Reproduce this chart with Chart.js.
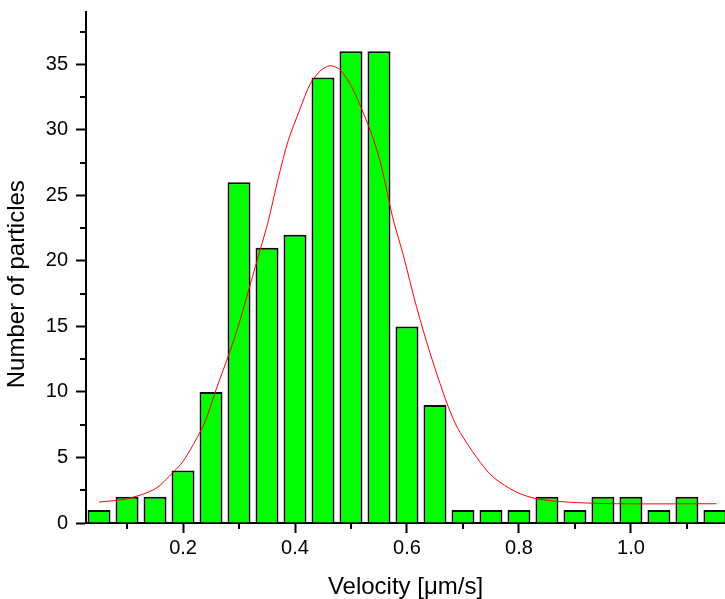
<!DOCTYPE html>
<html>
<head>
<meta charset="utf-8">
<title>Velocity distribution</title>
<script src="https://cdn.jsdelivr.net/npm/chart.js@4/dist/chart.umd.min.js"></script>
<style>
  html, body { margin: 0; padding: 0; background: #fff; }
  #wrap { width: 725px; height: 599px; }
</style>
</head>
<body>
<div id="wrap"><canvas id="chart" width="725" height="599"></canvas></div>
<script>
// Histogram bins (bin centre, µm/s) and particle counts
const binCenters = [0.05, 0.10, 0.15, 0.20, 0.25, 0.30, 0.35, 0.40, 0.45, 0.50, 0.55, 0.60,
                    0.65, 0.70, 0.75, 0.80, 0.85, 0.90, 0.95, 1.00, 1.05, 1.10, 1.15];
const counts = [1, 2, 2, 4, 10, 26, 21, 22, 34, 36, 36, 15,
                9, 1, 1, 1, 2, 1, 2, 2, 1, 2, 1];

// Gaussian fit curve, sampled points
const fitX = [0.05, 0.10, 0.15, 0.183, 0.20, 0.225, 0.241, 0.26, 0.283, 0.302, 0.32, 0.3375,
              0.352, 0.37, 0.388, 0.409, 0.427, 0.445, 0.4625, 0.48, 0.501, 0.522, 0.54, 0.555,
              0.574, 0.593, 0.617, 0.641, 0.665, 0.683, 0.695, 0.7245, 0.754, 0.796, 0.832,
              0.885, 0.974, 1.153];
const fitY = [1.6, 1.85, 2.6, 3.9, 4.7, 6.5, 7.9, 10.3, 13.0, 15.5, 18.2, 20.8,
              23.0, 26.3, 29.2, 31.6, 33.5, 34.5, 34.9, 34.6, 33.3, 31.3, 29.3, 27.1,
              23.4, 20.5, 16.5, 13.0, 9.9, 7.9, 6.9, 5.0, 3.5, 2.35, 1.85,
              1.6, 1.47, 1.47];

// Axis ticks
const xMajorTicks = [0.2, 0.4, 0.6, 0.8, 1.0];
const xMinorTicks = [0.1, 0.3, 0.5, 0.7, 0.9, 1.1];
const yMajorTicks = [0, 5, 10, 15, 20, 25, 30, 35];
const yMinorTicks = [2.5, 7.5, 12.5, 17.5, 22.5, 27.5, 32.5, 37.5];

const FONT = "'Liberation Sans', Arial, Helvetica, sans-serif";

// Short minor tick marks outside the plot frame
const minorTicks = {
  id: 'minorTicks',
  afterDraw(chart) {
    const ctx = chart.ctx;
    const xs = chart.scales.x, ys = chart.scales.y;
    const area = chart.chartArea;
    ctx.save();
    ctx.strokeStyle = '#000';
    ctx.lineWidth = 2;
    ctx.beginPath();
    xMinorTicks.forEach(v => {
      const px = Math.round(xs.getPixelForValue(v));
      ctx.moveTo(px, area.bottom);
      ctx.lineTo(px, area.bottom + 6);
    });
    yMinorTicks.forEach(v => {
      const py = Math.round(ys.getPixelForValue(v));
      ctx.moveTo(area.left, py);
      ctx.lineTo(area.left - 6, py);
    });
    ctx.stroke();
    ctx.restore();
  }
};

new Chart(document.getElementById('chart'), {
  type: 'bar',
  data: {
    datasets: [
      {
        type: 'line',
        data: fitX.map((x, i) => ({ x: x, y: fitY[i] })),
        borderColor: '#ff0000',
        borderWidth: 1,
        pointRadius: 0,
        fill: false,
        tension: 0.3,
        order: 0
      },
      {
        type: 'bar',
        data: binCenters.map((x, i) => ({ x: x, y: counts[i] })),
        backgroundColor: '#00ff00',
        borderColor: '#0a0a0a',
        borderWidth: 2,
        barPercentage: 0.82,
        categoryPercentage: 1.0,
        order: 1
      }
    ]
  },
  options: {
    responsive: false,
    animation: false,
    devicePixelRatio: 1,
    layout: { padding: { top: 12, right: 0, bottom: 0, left: 0 } },
    plugins: { legend: { display: false }, tooltip: { enabled: false } },
    scales: {
      x: {
        type: 'linear',
        min: 0.0267,
        max: 1.168,
        offset: false,
        afterFit(s) { s.height = 76; s.paddingLeft = 0; s.paddingRight = 0; },
        afterBuildTicks(s) { s.ticks = xMajorTicks.map(v => ({ value: v })); },
        grid: { offset: false, drawOnChartArea: false, drawTicks: true, tickLength: 10,
                tickColor: '#000', tickWidth: 2 },
        border: { display: true, color: '#000', width: 2 },
        ticks: {
          color: '#000', padding: 3, maxRotation: 0, autoSkip: false,
          font: { family: FONT, size: 20 },
          callback: v => Number(v).toFixed(1)
        },
        title: {
          display: true, text: 'Velocity [μm/s]', color: '#000', padding: 0,
          font: { family: FONT, size: 24, lineHeight: 1 }
        }
      },
      y: {
        min: 0,
        max: 39,
        afterFit(s) { s.width = 86; s.paddingTop = 0; s.paddingBottom = 0; },
        afterBuildTicks(s) { s.ticks = yMajorTicks.map(v => ({ value: v })); },
        grid: { drawOnChartArea: false, drawTicks: true, tickLength: 10,
                tickColor: '#000', tickWidth: 2 },
        border: { display: true, color: '#000', width: 2 },
        ticks: {
          color: '#000', padding: 8,
          font: { family: FONT, size: 20 },
          callback: v => String(v)
        },
        title: {
          display: true, text: 'Number of particles     ', color: '#000', padding: { top: 5, bottom: 0 },
          font: { family: FONT, size: 24, lineHeight: 1 }
        }
      }
    }
  },
  plugins: [minorTicks]
});
</script>
</body>
</html>
